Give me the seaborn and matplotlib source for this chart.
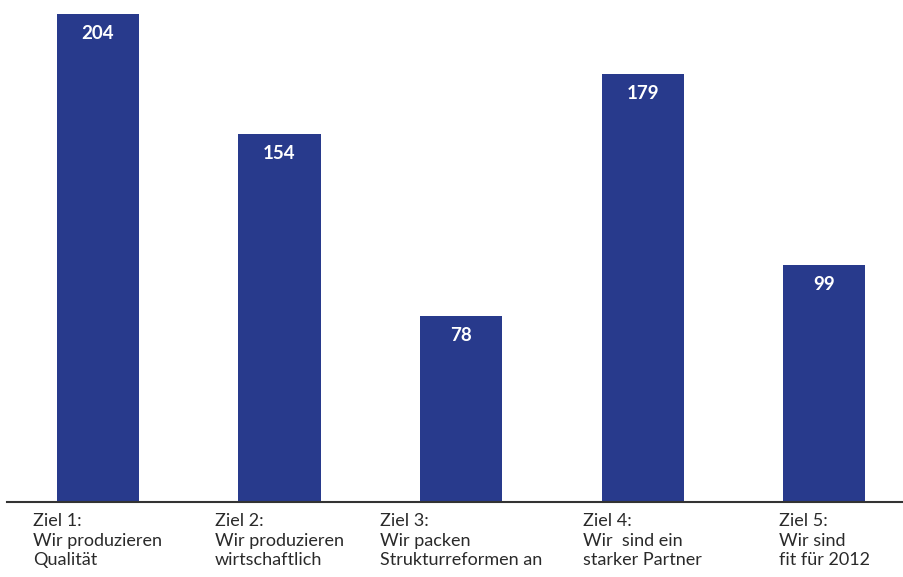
import matplotlib
matplotlib.use("Agg")
import matplotlib.pyplot as plt
import seaborn as sns
import pandas as pd

# Werte aus dem Diagramm
ziele = ["Ziel 1", "Ziel 2", "Ziel 3", "Ziel 4", "Ziel 5"]
werte = [204, 154, 78, 179, 99]
beschriftungen = [
    "Ziel 1:\nWir produzieren\nQualität",
    "Ziel 2:\nWir produzieren\nwirtschaftlich",
    "Ziel 3:\nWir packen\nStrukturreformen an",
    "Ziel 4:\nWir  sind ein\nstarker Partner",
    "Ziel 5:\nWir sind\nfit für 2012",
]

df = pd.DataFrame({"ziel": ziele, "wert": werte})

sns.set_style("white")
plt.rcParams["font.family"] = ["Lato", "DejaVu Sans"]

fig = plt.figure(figsize=(9.04, 5.77), dpi=100)
ax = fig.add_axes([7 / 904, 75 / 577, 897 / 904, 502 / 577])

sns.barplot(data=df, x="ziel", y="wert", color="#283a8c", saturation=1,
            width=0.452, linewidth=0, ax=ax)

ax.set_xlim(-0.501, 4.44)
ax.set_ylim(0, 210)

# Werte in die Balken schreiben
for i, v in enumerate(werte):
    ax.annotate(str(v), (i, v), xytext=(0, -8), textcoords="offset points",
                ha="center", va="top", color="white", fontsize=13.5,
                fontweight="bold")

# Beschriftung unter den Balken
for i, txt in enumerate(beschriftungen):
    ax.annotate(txt, (i, 0), xytext=(0, -8), textcoords="offset points",
                ha="center", va="top", multialignment="left",
                fontsize=13, color="#2a2a2a", linespacing=1.28,
                annotation_clip=False)

for s in ["top", "right", "left"]:
    ax.spines[s].set_visible(False)
ax.spines["bottom"].set_color("#333333")
ax.spines["bottom"].set_linewidth(1.5)
ax.set_xticks([])
ax.set_yticks([])
ax.set_xlabel("")
ax.set_ylabel("")

fig.savefig("out.png", dpi=100)
